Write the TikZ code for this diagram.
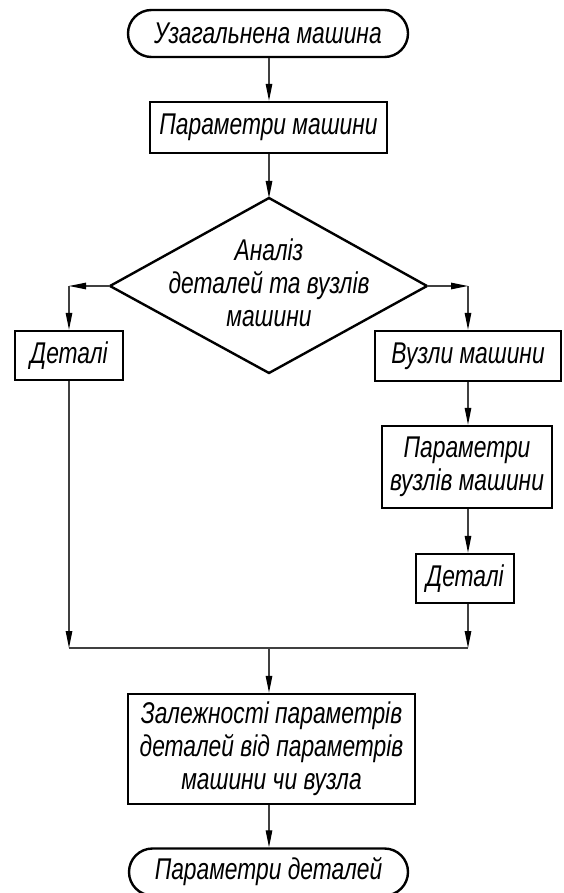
\documentclass[tikz,border=0pt]{standalone}
\usepackage{fontspec}
\setmainfont{Liberation Sans}[FakeStretch=0.76]
\usetikzlibrary{arrows.meta,shapes.misc}
\tikzset{
  boxline/.style={draw=black, line width=2.4pt},
  procbox/.style={boxline, rectangle, inner sep=0pt, align=center, font=\fontsize{30}{33}\selectfont\itshape},
  termbox/.style={boxline, rounded rectangle, inner sep=0pt, align=center, font=\fontsize{30}{33}\selectfont\itshape},
  conn/.style={draw=black!75, line width=1.1pt},
  arr/.style={conn, -{Triangle[length=17pt,width=6.5pt,color=black,fill=black]}},
  lbl/.style={align=center, inner sep=0pt, font=\fontsize{30}{33}\selectfont\itshape}
}
\begin{document}
\begin{tikzpicture}[x=1pt,y=-1pt]
\useasboundingbox (0,0) rectangle (563,893);
\clip (0,0) rectangle (563,893);
% nodes
\node[termbox, minimum width=280pt, minimum height=47pt] (t1) at (268,33.5) {Узагальнена машина};
\node[procbox, minimum width=237pt, minimum height=51pt] (b1) at (268.5,127.5) {Параметри машини};
% diamond
\coordinate (dt) at (269,198);
\coordinate (db) at (269,373);
\coordinate (dl) at (110,286);
\coordinate (dr) at (427,286);
\draw[boxline, line join=miter] (dt) -- (dr) -- (db) -- (dl) -- cycle;
\node[lbl] (dtext) at (269,283) {Аналіз\\деталей та вузлів\\машини};
\node[procbox, minimum width=108pt, minimum height=49pt] (b2) at (69,355.5) {Деталі};
\node[procbox, minimum width=186pt, minimum height=50pt] (b3) at (468,356) {Вузли машини};
\node[procbox, minimum width=170pt, minimum height=82pt] (b4) at (467,467) {Параметри\\вузлів машини};
\node[procbox, minimum width=98pt, minimum height=49pt] (b5) at (465,578.5) {Деталі};
\node[procbox, minimum width=287pt, minimum height=110pt] (b6) at (271.5,749) {Залежності параметрів\\деталей від параметрів\\машини чи вузла};
\node[termbox, minimum width=279pt, minimum height=47pt] (t2) at (268.5,872) {Параметри деталей};
% junction coordinates
\coordinate (cl) at (69,286);
\coordinate (cr) at (468,286);
\coordinate (jl) at (69,648);
\coordinate (jr) at (468,648);
\coordinate (jc) at (269,648);
% connectors
\draw[arr] (dt |- t1.south) -- (dt |- b1.north);
\draw[arr] (dt |- b1.south) -- (dt);
\draw[arr] (dl) -- (cl);
\draw[arr] (cl) -- (cl |- b2.north);
\draw[arr] (dr) -- (cr);
\draw[arr] (cr) -- (cr |- b3.north);
\draw[arr] (cr |- b3.south) -- (cr |- b4.north);
\draw[arr] (cr |- b4.south) -- (cr |- b5.north);
\draw[arr] (cl |- b2.south) -- (jl);
\draw[arr] (cr |- b5.south) -- (jr);
\draw[conn] (jl) -- (jr);
\draw[arr] (jc) -- (jc |- b6.north);
\draw[arr] (jc |- b6.south) -- (jc |- t2.north);
\end{tikzpicture}
\end{document}
